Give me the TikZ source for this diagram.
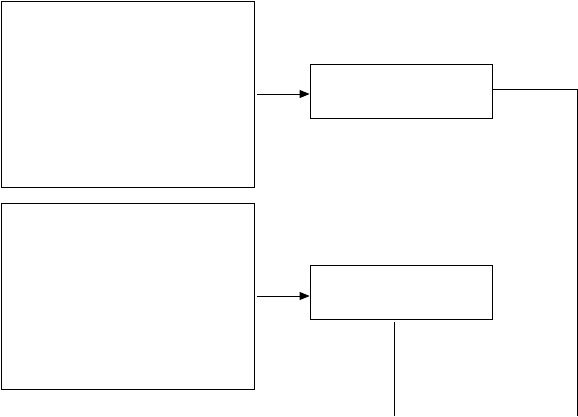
\documentclass[tikz,border=0pt]{standalone}
\usetikzlibrary{arrows.meta}
\begin{document}
\begin{tikzpicture}[x=1pt,y=-1pt,line width=0.8pt,
  every node/.style={draw,inner sep=0pt,line width=0.8pt},
  bigbox/.style={minimum width=253pt,minimum height=186pt},
  smallbox/.style={minimum width=182pt,minimum height=54pt},
  arr/.style={-{Triangle[length=10pt,width=8pt]}}]
  \useasboundingbox (0,0) rectangle (578,416);
  \node[bigbox] (in1) at (128,94) {};
  \node[bigbox] (in2) at (128,296) {};
  \node[smallbox] (proc1) at (401,91) {};
  \node[smallbox] (proc2) at (401,292) {};
  \coordinate (out1) at (577,416);
  \coordinate (out2) at (394,416);
  \draw[arr] ([xshift=2pt]in1.east) -- (in1.east -| proc1.west);
  \draw[arr] ([xshift=2pt]in2.east) -- (in2.east -| proc2.west);
  \draw ([yshift=2pt]proc1.east) -| (out1);
  \draw ([yshift=-3pt]proc2.south -| out2) -- (out2);
\end{tikzpicture}
\end{document}
